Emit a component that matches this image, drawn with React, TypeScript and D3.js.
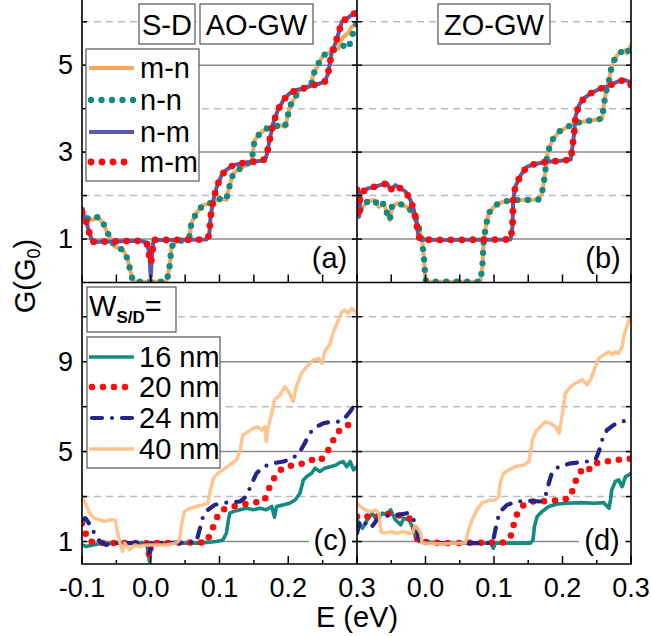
import React from "react";
import * as d3 from "d3";

type P = [number, number];

// ---------- tick / label data ----------
const xTickLabelsC = [-0.1, 0.0, 0.1, 0.2, 0.3];
const xTickLabelsD = [0.0, 0.1, 0.2, 0.3];
const xTickPositions = [-0.1, -0.05, 0.0, 0.05, 0.1, 0.15, 0.2, 0.25, 0.3];
const yLabelsTop = [1, 3, 5];
const yLabelsBottom = [1, 5, 9];
const gridSolidTop = [1, 3, 5];
const gridDashedTop = [2, 4, 6];
const yTicksTop = [1, 2, 3, 4, 5, 6];
const gridSolidBottom = [1, 5, 9];
const gridDashedBottom = [3, 7, 11];
const yTicksBottom = [1, 3, 5, 7, 9, 11];
const legendTop = ["m-n", "n-n", "n-m", "m-m"];
const legendBottom = ["16 nm", "20 nm", "24 nm", "40 nm"];

// ---------- panel (a) AO-GW ----------
const aMN: P[] = [[-0.1,1.67],[-0.093,1.48],[-0.084,1.44],[-0.077,1.51],[-0.069,1.36],[-0.065,1.21],[-0.058,1.0],[-0.052,0.82],[-0.04,0.75],[-0.034,0.55],[-0.031,0.36],[-0.027,0.1],[-0.025,0.02],[0.0,0.02],[0.022,0.02],[0.025,0.15],[0.028,0.44],[0.03,0.82],[0.037,0.94],[0.05,0.98],[0.056,1.03],[0.059,1.36],[0.066,1.59],[0.076,1.78],[0.086,1.82],[0.096,1.9],[0.103,1.93],[0.11,1.9],[0.113,2.13],[0.12,2.51],[0.13,2.62],[0.139,2.7],[0.147,2.82],[0.151,3.28],[0.159,3.43],[0.168,3.54],[0.178,3.58],[0.188,3.62],[0.195,3.58],[0.198,3.74],[0.202,4.04],[0.21,4.27],[0.217,4.43],[0.227,4.49],[0.234,4.58],[0.236,4.77],[0.244,5.04],[0.251,5.23],[0.258,5.27],[0.265,5.34],[0.273,5.38],[0.275,5.5],[0.28,5.65],[0.287,5.73],[0.292,5.88],[0.3,5.98]];
const aNN: P[] = [[-0.1,1.67],[-0.093,1.48],[-0.084,1.44],[-0.077,1.51],[-0.069,1.36],[-0.065,1.21],[-0.058,1.0],[-0.052,0.82],[-0.04,0.75],[-0.034,0.55],[-0.031,0.36],[-0.027,0.1],[-0.025,0.02],[0.0,0.02],[0.022,0.02],[0.025,0.15],[0.028,0.44],[0.03,0.82],[0.037,0.94],[0.05,0.98],[0.056,1.03],[0.059,1.36],[0.066,1.59],[0.076,1.78],[0.086,1.82],[0.096,1.9],[0.103,1.93],[0.11,1.9],[0.113,2.13],[0.12,2.51],[0.13,2.62],[0.139,2.7],[0.147,2.82],[0.151,3.28],[0.159,3.43],[0.168,3.54],[0.178,3.58],[0.188,3.62],[0.195,3.58],[0.198,3.74],[0.202,4.04],[0.21,4.27],[0.217,4.43],[0.227,4.49],[0.234,4.58],[0.236,4.77],[0.244,5.04],[0.251,5.23],[0.258,5.27],[0.265,5.34],[0.273,5.4],[0.28,5.45],[0.287,5.38],[0.292,5.6],[0.297,5.92],[0.3,5.95]];
const aNM: P[] = [[-0.1,1.63],[-0.094,1.4],[-0.089,1.13],[-0.085,0.94],[-0.069,0.94],[-0.04,0.95],[-0.016,0.96],[-0.006,0.92],[-0.002,0.67],[0.0,0.13],[0.002,0.67],[0.004,0.98],[0.023,0.98],[0.081,0.99],[0.085,1.09],[0.087,1.51],[0.091,1.9],[0.096,2.2],[0.103,2.47],[0.11,2.59],[0.12,2.7],[0.134,2.75],[0.149,2.78],[0.163,2.8],[0.168,2.89],[0.173,3.28],[0.178,3.66],[0.185,3.97],[0.193,4.2],[0.202,4.35],[0.212,4.43],[0.227,4.49],[0.236,4.54],[0.246,4.58],[0.253,4.62],[0.258,4.81],[0.263,5.27],[0.27,5.57],[0.278,6.0],[0.285,6.07],[0.292,6.15],[0.3,6.23]];
const aMM: P[] = [[-0.1,1.63],[-0.094,1.4],[-0.089,1.13],[-0.085,0.94],[-0.069,0.94],[-0.04,0.95],[-0.016,0.96],[-0.006,0.92],[-0.002,0.6],[0.0,0.45],[0.002,0.6],[0.004,0.98],[0.023,0.98],[0.081,0.99],[0.085,1.09],[0.087,1.51],[0.091,1.9],[0.096,2.2],[0.103,2.47],[0.11,2.59],[0.12,2.7],[0.134,2.75],[0.149,2.78],[0.163,2.8],[0.168,2.89],[0.173,3.28],[0.178,3.66],[0.185,3.97],[0.193,4.2],[0.202,4.35],[0.212,4.43],[0.227,4.49],[0.236,4.54],[0.246,4.58],[0.253,4.62],[0.258,4.81],[0.263,5.27],[0.27,5.57],[0.278,6.0],[0.285,6.07],[0.292,6.15],[0.3,6.23]];

// ---------- panel (b) ZO-GW ----------
const bMN: P[] = [[-0.1,1.9],[-0.095,1.67],[-0.085,1.86],[-0.075,1.9],[-0.068,1.74],[-0.061,1.82],[-0.056,1.59],[-0.052,1.44],[-0.049,1.74],[-0.041,1.82],[-0.032,1.78],[-0.022,1.67],[-0.015,1.51],[-0.01,1.28],[-0.005,0.98],[-0.002,0.52],[0.0,0.06],[0.002,0.02],[0.08,0.02],[0.083,0.36],[0.085,0.98],[0.088,1.28],[0.092,1.59],[0.102,1.78],[0.114,1.86],[0.129,1.9],[0.148,1.9],[0.165,1.91],[0.17,2.05],[0.174,2.43],[0.178,2.97],[0.185,3.28],[0.195,3.47],[0.207,3.58],[0.217,3.66],[0.229,3.7],[0.246,3.74],[0.258,3.77],[0.26,4.04],[0.263,4.35],[0.268,4.66],[0.27,4.85],[0.274,5.08],[0.282,5.27],[0.29,5.34],[0.294,5.27],[0.3,5.46]];
const bNN: P[] = bMN;
const bNM: P[] = [[-0.1,2.13],[-0.097,1.51],[-0.095,2.05],[-0.085,2.16],[-0.075,2.2],[-0.066,2.24],[-0.056,2.28],[-0.051,2.13],[-0.044,2.24],[-0.036,2.16],[-0.029,2.09],[-0.022,1.9],[-0.017,1.67],[-0.013,1.36],[-0.011,1.13],[-0.008,0.99],[0.022,0.98],[0.124,0.99],[0.127,1.28],[0.128,1.9],[0.131,2.2],[0.139,2.47],[0.148,2.66],[0.158,2.72],[0.178,2.78],[0.197,2.8],[0.212,2.83],[0.214,3.05],[0.217,3.43],[0.219,3.81],[0.224,4.08],[0.231,4.23],[0.241,4.35],[0.251,4.43],[0.26,4.49],[0.27,4.54],[0.28,4.62],[0.29,4.66],[0.297,4.62],[0.3,4.54]];
const bMM: P[] = bNM;

// ---------- panel (c) AO-GW widths ----------
const c16: P[] = [[-0.1,0.85],[-0.094,0.78],[-0.084,0.85],[-0.074,0.9],[-0.05,0.93],[-0.026,0.93],[-0.006,0.93],[-0.002,0.11],[0.001,0.93],[0.071,0.93],[0.096,1.0],[0.105,1.07],[0.11,1.37],[0.113,1.96],[0.115,2.26],[0.12,2.33],[0.13,2.41],[0.139,2.48],[0.149,2.41],[0.159,2.48],[0.168,2.41],[0.176,2.56],[0.18,2.08],[0.183,2.56],[0.193,2.63],[0.202,2.7],[0.21,2.85],[0.217,3.15],[0.222,3.74],[0.227,3.89],[0.234,4.04],[0.239,4.26],[0.246,4.11],[0.253,4.26],[0.261,4.33],[0.27,4.41],[0.275,4.51],[0.28,4.56],[0.285,4.33],[0.29,4.56],[0.295,4.19],[0.3,4.33]];
const c20: P[] = [[-0.1,1.81],[-0.096,1.44],[-0.089,1.0],[-0.074,0.93],[-0.006,0.93],[-0.002,0.33],[0.001,0.93],[0.081,0.96],[0.086,1.3],[0.091,1.67],[0.096,2.04],[0.1,2.33],[0.11,2.48],[0.13,2.63],[0.149,2.73],[0.164,2.78],[0.168,3.0],[0.173,3.44],[0.178,3.74],[0.185,4.11],[0.197,4.33],[0.212,4.41],[0.222,4.48],[0.234,4.63],[0.244,4.56],[0.253,4.78],[0.261,5.22],[0.268,5.67],[0.275,5.96],[0.282,6.11],[0.29,6.23],[0.295,6.11],[0.3,6.2]];
const c24: P[] = [[-0.1,1.96],[-0.095,2.04],[-0.09,1.81],[-0.082,1.37],[-0.074,1.0],[-0.065,0.85],[-0.055,0.93],[-0.006,0.93],[-0.002,0.48],[0.001,0.93],[0.066,0.96],[0.071,1.52],[0.076,2.11],[0.083,2.41],[0.093,2.63],[0.11,2.73],[0.13,2.78],[0.139,3.0],[0.147,3.59],[0.154,4.04],[0.164,4.33],[0.178,4.48],[0.193,4.56],[0.207,4.7],[0.217,5.0],[0.224,5.37],[0.231,5.81],[0.241,6.11],[0.251,6.26],[0.263,6.33],[0.273,6.33],[0.28,6.41],[0.29,6.78],[0.3,7.22]];
const c40: P[] = [[-0.1,3.0],[-0.095,2.7],[-0.089,2.26],[-0.082,2.04],[-0.074,1.96],[-0.067,1.89],[-0.06,1.96],[-0.052,1.96],[-0.05,1.67],[-0.045,0.93],[-0.041,0.56],[-0.038,0.93],[-0.031,0.63],[-0.023,0.85],[-0.016,0.78],[-0.006,0.85],[0.008,0.85],[0.023,0.85],[0.037,0.93],[0.042,1.07],[0.045,1.81],[0.049,2.33],[0.057,2.48],[0.066,2.56],[0.076,2.63],[0.083,2.7],[0.086,3.15],[0.091,3.81],[0.098,4.04],[0.105,4.19],[0.115,4.41],[0.125,4.63],[0.13,5.07],[0.134,5.74],[0.142,5.89],[0.149,6.04],[0.156,6.11],[0.161,5.96],[0.166,6.11],[0.168,5.44],[0.171,6.11],[0.176,6.7],[0.18,7.3],[0.188,7.52],[0.195,7.89],[0.202,7.59],[0.207,7.22],[0.212,7.89],[0.219,8.48],[0.227,8.78],[0.236,9.07],[0.244,9.15],[0.249,8.93],[0.253,9.44],[0.261,9.81],[0.265,10.26],[0.273,10.85],[0.278,11.22],[0.282,11.3],[0.287,11.15],[0.292,11.37],[0.3,11.15]];

// ---------- panel (d) ZO-GW widths ----------
const d16: P[] = [[-0.1,1.96],[-0.092,1.59],[-0.085,1.96],[-0.078,2.26],[-0.071,1.96],[-0.063,2.26],[-0.056,2.19],[-0.051,2.41],[-0.044,1.96],[-0.036,1.74],[-0.032,2.04],[-0.024,1.96],[-0.018,1.59],[-0.015,1.22],[-0.01,1.0],[0.022,0.93],[0.095,0.93],[0.099,0.7],[0.102,0.93],[0.153,0.93],[0.157,1.07],[0.159,1.67],[0.163,2.11],[0.17,2.33],[0.18,2.56],[0.192,2.67],[0.207,2.7],[0.226,2.73],[0.246,2.7],[0.26,2.73],[0.268,2.48],[0.27,2.85],[0.272,3.3],[0.277,3.67],[0.282,3.74],[0.287,3.44],[0.292,3.89],[0.297,3.96],[0.3,4.04]];
const d20: P[] = [[-0.1,2.11],[-0.09,2.04],[-0.08,2.19],[-0.071,2.11],[-0.061,2.19],[-0.051,2.26],[-0.041,2.19],[-0.032,2.08],[-0.024,2.04],[-0.019,1.89],[-0.015,1.44],[-0.011,1.0],[0.022,0.93],[0.114,0.96],[0.124,1.19],[0.128,1.67],[0.134,2.26],[0.141,2.56],[0.148,2.73],[0.158,2.79],[0.168,2.78],[0.187,2.82],[0.202,2.85],[0.212,3.0],[0.217,3.52],[0.224,4.04],[0.234,4.33],[0.241,4.19],[0.251,4.51],[0.265,4.56],[0.28,4.63],[0.29,4.66],[0.3,4.69]];
const d24: P[] = [[-0.1,1.37],[-0.095,1.96],[-0.088,1.81],[-0.08,1.59],[-0.071,1.96],[-0.063,2.19],[-0.051,2.11],[-0.039,2.19],[-0.027,2.26],[-0.019,2.08],[-0.013,1.67],[-0.01,1.15],[-0.007,1.0],[0.022,0.93],[0.097,0.93],[0.1,1.22],[0.105,1.96],[0.109,2.33],[0.119,2.63],[0.134,2.78],[0.148,2.82],[0.168,2.78],[0.175,3.0],[0.18,3.59],[0.185,4.11],[0.195,4.33],[0.212,4.48],[0.236,4.56],[0.248,4.63],[0.253,5.0],[0.258,5.52],[0.265,5.96],[0.275,6.19],[0.287,6.33],[0.3,6.44]];
const d40: P[] = [[-0.1,2.7],[-0.095,2.56],[-0.088,2.41],[-0.08,2.33],[-0.073,2.41],[-0.068,2.26],[-0.065,1.44],[-0.061,1.37],[-0.051,1.44],[-0.041,1.37],[-0.032,1.44],[-0.024,1.37],[-0.019,1.37],[-0.016,1.67],[-0.012,1.59],[-0.007,1.37],[-0.005,0.93],[0.022,0.9],[0.058,0.93],[0.063,1.52],[0.068,1.96],[0.075,2.41],[0.083,2.73],[0.092,2.82],[0.102,2.85],[0.107,3.0],[0.109,3.59],[0.114,4.04],[0.122,4.19],[0.131,4.33],[0.144,4.41],[0.151,4.56],[0.153,4.93],[0.156,5.52],[0.161,5.89],[0.168,6.11],[0.175,6.33],[0.182,6.26],[0.19,6.11],[0.195,5.81],[0.2,6.7],[0.204,7.59],[0.212,7.89],[0.219,8.04],[0.229,8.19],[0.236,7.96],[0.241,8.19],[0.248,8.78],[0.253,9.15],[0.26,9.3],[0.268,9.44],[0.272,9.3],[0.277,9.44],[0.282,9.37],[0.287,9.67],[0.29,10.19],[0.294,10.56],[0.3,11.15]];

// ---------- styles ----------
interface Style { color: string; width: number; dash?: string; opacity?: number }
const ORANGE = "#F9A75A";
const TEAL = "#138A82";
const SLATE = "#5A5AAD";
const RED = "#FF0A0A";
const NAVY = "#252589";
const LIGHTORANGE = "#FFBF82";

const stMN: Style = { color: ORANGE, width: 4 };
const stNN: Style = { color: TEAL, width: 6.3, dash: "0 10.5" };
const stNM: Style = { color: SLATE, width: 4 };
const stMM: Style = { color: RED, width: 6.8, dash: "0 11" };
const st16: Style = { color: TEAL, width: 3.6 };
const st20: Style = { color: RED, width: 6.5, dash: "0 11" };
const st24: Style = { color: NAVY, width: 4.2, dash: "10 10 0 10" };
const st40: Style = { color: LIGHTORANGE, width: 3.5, opacity: 0.9 };

const FONT = "'Liberation Sans', Arial, Helvetica, sans-serif";
const FS = 29;
const TICKFS = 27;

const L = 82, M = 357, R = 631, T = -1, MID = 282.5, B = 564;

const xLeft = d3.scaleLinear().domain([-0.1, 0.3]).range([L, M]);
const xRight = d3.scaleLinear().domain([-0.1, 0.3]).range([M, R]);
const yTop = d3.scaleLinear().domain([0, 6.5]).range([MID, 0]);
const yBot = d3.scaleLinear().domain([0, 12.5]).range([B, 283]);

type Sc = d3.ScaleLinear<number, number>;

function Curve({ data, st, x, y }: { data: P[]; st: Style; x: Sc; y: Sc }) {
  const line = d3.line<P>().x((d) => x(d[0])).y((d) => y(d[1]));
  return (
    <path
      d={line(data) || ""}
      fill="none"
      stroke={st.color}
      strokeWidth={st.width}
      strokeDasharray={st.dash}
      strokeLinecap="round"
      strokeLinejoin="round"
      opacity={st.opacity}
    />
  );
}

function LegendSample({ st, x1, x2, y }: { st: Style; x1: number; x2: number; y: number }) {
  return (
    <line x1={x1} x2={x2} y1={y} y2={y} stroke={st.color} strokeWidth={st.width}
      strokeDasharray={st.dash} strokeLinecap={st.dash ? "round" : "butt"} opacity={st.opacity} />
  );
}

function Panel({ id, x, y, solid, dashed, yTicks, series, label, labelBox, top, bottom, majorLen, minorLen }: any) {
  const [x0, x1] = x.range();
  return (
    <g>
      <defs>
        <clipPath id={id}>
          <rect x={x0} y={top} width={x1 - x0} height={bottom - top} />
        </clipPath>
      </defs>
      <g clipPath={`url(#${id})`}>
        {dashed.map((v: number) => (
          <line key={"d" + v} x1={x0} x2={x1} y1={y(v)} y2={y(v)} stroke="#BDBDBD" strokeWidth={1.5} strokeDasharray="7 5" />
        ))}
        {solid.map((v: number) => (
          <line key={"s" + v} x1={x0} x2={x1} y1={y(v)} y2={y(v)} stroke="#8C8C8C" strokeWidth={1.5} />
        ))}
        {series.map((s: any, i: number) => (
          <Curve key={i} data={s.data} st={s.st} x={x} y={y} />
        ))}
      </g>
      <rect x={labelBox[0]} y={labelBox[1]} width={labelBox[2]} height={labelBox[3]} fill="#fff" />
      <text x={labelBox[0] + labelBox[2] / 2} y={label.y} textAnchor="middle" fontSize={FS} fontFamily={FONT}>{label.text}</text>
      {yTicks.map((v: number) => (
        <g key={"yt" + v}>
          <line x1={x0} x2={x0 + 5} y1={y(v)} y2={y(v)} stroke="#000" strokeWidth={1.5} />
          <line x1={x1 - 5} x2={x1} y1={y(v)} y2={y(v)} stroke="#000" strokeWidth={1.5} />
        </g>
      ))}
      {xTickPositions.map((v, i) => (
        <line key={"xt" + i} x1={x(v)} x2={x(v)} y1={bottom} y2={bottom - (i % 2 === 0 ? majorLen : minorLen)} stroke="#000" strokeWidth={1.5} />
      ))}
    </g>
  );
}

function TextBox({ x, y, w, h, text }: { x: number; y: number; w: number; h: number; text: string }) {
  return (
    <g>
      <rect x={x} y={y} width={w} height={h} fill="#fff" stroke="#555" strokeWidth={1.2} />
      <text x={x + w / 2} y={y + h - 9} textAnchor="middle" fontSize={FS} fontFamily={FONT}>{text}</text>
    </g>
  );
}

export default function App() {
  const topSeriesA = [
    { data: aMN, st: stMN }, { data: aNN, st: stNN }, { data: aNM, st: stNM }, { data: aMM, st: stMM },
  ];
  const topSeriesB = [
    { data: bMN, st: stMN }, { data: bNN, st: stNN }, { data: bNM, st: stNM }, { data: bMM, st: stMM },
  ];
  const botSeriesC = [
    { data: c16, st: st16 }, { data: c20, st: st20 }, { data: c24, st: st24 }, { data: c40, st: st40 },
  ];
  const botSeriesD = [
    { data: d16, st: st16 }, { data: d20, st: st20 }, { data: d24, st: st24 }, { data: d40, st: st40 },
  ];
  const topStyles = [stMN, stNN, stNM, stMM];
  const botStyles = [st16, st20, st24, st40];
  const topRows = [68, 100, 132, 162];
  const botRows = [357, 387, 418, 449];

  return (
    <svg width={651} height={636} style={{ position: "absolute", left: 0, top: 0, background: "#fff" }} fontFamily={FONT}>
      <rect x={0} y={0} width={651} height={636} fill="#fff" />
      <Panel id="pa" x={xLeft} y={yTop} solid={gridSolidTop} dashed={gridDashedTop} yTicks={yTicksTop}
        series={topSeriesA} label={{ text: "(a)", y: 268 }} labelBox={[307, 240, 45, 36]} top={T} bottom={MID} majorLen={8} minorLen={8} />
      <Panel id="pb" x={xRight} y={yTop} solid={gridSolidTop} dashed={gridDashedTop} yTicks={yTicksTop}
        series={topSeriesB} label={{ text: "(b)", y: 268 }} labelBox={[580, 240, 46, 36]} top={T} bottom={MID} majorLen={8} minorLen={8} />
      <Panel id="pc" x={xLeft} y={yBot} solid={gridSolidBottom} dashed={gridDashedBottom} yTicks={yTicksBottom}
        series={botSeriesC} label={{ text: "(c)", y: 550 }} labelBox={[309, 523, 43, 38]} top={MID} bottom={B} majorLen={8} minorLen={4} />
      <Panel id="pd" x={xRight} y={yBot} solid={gridSolidBottom} dashed={gridDashedBottom} yTicks={yTicksBottom}
        series={botSeriesD} label={{ text: "(d)", y: 550 }} labelBox={[579, 523, 46, 38]} top={MID} bottom={B} majorLen={8} minorLen={4} />

      <TextBox x={139} y={4} w={56} h={40} text="S-D" />
      <TextBox x={200} y={4} w={113} h={40} text="AO-GW" />
      <TextBox x={438} y={4} w={112} h={40} text="ZO-GW" />

      <rect x={86} y={49} width={113} height={132} fill="#fff" stroke="#555" strokeWidth={1.2} />
      {legendTop.map((t, i) => (
        <g key={t}>
          <LegendSample st={topStyles[i]} x1={topStyles[i].dash ? 91 : 89} x2={134} y={topRows[i]} />
          <text x={140} y={topRows[i] + 10} fontSize={FS} fontFamily={FONT}>{t}</text>
        </g>
      ))}

      <rect x={87} y={287} width={89} height={45} fill="#fff" stroke="#555" strokeWidth={1.2} />
      <text x={89} y={316} fontSize={FS} fontFamily={FONT}>
        W<tspan fontSize={17} fontWeight="bold" dy={7}>S/D</tspan><tspan dy={-7}>=</tspan>
      </text>

      <rect x={87} y={337} width={133} height={131} fill="#fff" stroke="#555" strokeWidth={1.2} />
      {legendBottom.map((t, i) => (
        <g key={t}>
          <LegendSample st={botStyles[i]} x1={botStyles[i].dash ? 92 : 89} x2={134} y={botRows[i]} />
          <text x={139} y={botRows[i] + 10} fontSize={FS} fontFamily={FONT}>{t}</text>
        </g>
      ))}

      <path d={`M${L},${T}V${B}H${R}V${T}M${M},${T}V${B}M${L},${MID}H${R}`} fill="none" stroke="#000" strokeWidth={1.6} />

      {yLabelsTop.map((v) => (
        <text key={"yl" + v} x={73} y={yTop(v) + 9} textAnchor="end" fontSize={TICKFS} fontFamily={FONT}>{v}</text>
      ))}
      {yLabelsBottom.map((v) => (
        <text key={"ylb" + v} x={73} y={yBot(v) + 9} textAnchor="end" fontSize={TICKFS} fontFamily={FONT}>{v}</text>
      ))}
      {xTickLabelsC.map((v) => (
        <text key={"xc" + v} x={xLeft(v)} y={597} textAnchor="middle" fontSize={TICKFS} fontFamily={FONT}>{v.toFixed(1)}</text>
      ))}
      {xTickLabelsD.map((v) => (
        <text key={"xd" + v} x={xRight(v)} y={597} textAnchor="middle" fontSize={TICKFS} fontFamily={FONT}>{v.toFixed(1)}</text>
      ))}

      <text x={357} y={627} textAnchor="middle" fontSize={FS} fontFamily={FONT}>E (eV)</text>
      <text transform="translate(35,276) rotate(-90)" textAnchor="middle" fontSize={FS} fontFamily={FONT}>
        G(G<tspan fontSize={18} dy={5}>0</tspan><tspan dy={-5}>)</tspan>
      </text>
    </svg>
  );
}
